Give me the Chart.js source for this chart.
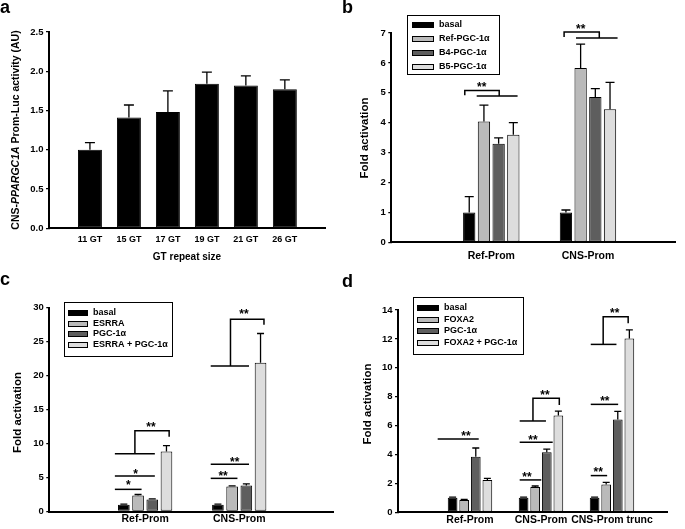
<!DOCTYPE html>
<html>
<head>
<meta charset="utf-8">
<script src="https://cdn.jsdelivr.net/npm/chart.js@4.4.0/dist/chart.umd.min.js"></script>
<style>
  body { margin: 0; background: #fff; width: 685px; height: 529px; position: relative; overflow: hidden; }
  canvas { position: absolute; }
</style>
</head>
<body>
<canvas id="chartA" width="342" height="265" style="left:0;top:0"></canvas>
<canvas id="chartB" width="343" height="265" style="left:342px;top:0"></canvas>
<canvas id="chartC" width="342" height="264" style="left:0;top:265px"></canvas>
<canvas id="chartD" width="343" height="264" style="left:342px;top:265px"></canvas>
<script>
var FONT = "'Liberation Sans', Arial, sans-serif";

// panel a - GT repeat sizes
var gtLabels = ['11 GT', '15 GT', '17 GT', '19 GT', '21 GT', '26 GT'];
var gtMeans = [1.00, 1.41, 1.48, 1.84, 1.82, 1.77];
var gtErrs = [0.09, 0.16, 0.27, 0.15, 0.12, 0.12];

// panel b
var bGroups = ['Ref-Prom', 'CNS-Prom'];
var bNames = ['basal', 'Ref-PGC-1α', 'B4-PGC-1α', 'B5-PGC-1α'];
var bBasal = [1.00, 1.00];
var bRefPgc = [4.04, 5.83];
var bB4Pgc = [3.30, 4.86];
var bB5Pgc = [3.60, 4.45];
var bBasalErr = [0.53, 0.08];
var bRefPgcErr = [0.55, 0.80];
var bB4PgcErr = [0.19, 0.28];
var bB5PgcErr = [0.40, 0.90];
// significance marks: [group, x1, x2, y] / [group, xa, ya, yTop, xb, yb] / [group, x, y, text]
var bLines = [[1, -0.151, 0.272, 4.89], [2, -0.124, 0.306, 6.83]];
var bPaths = [[1, -0.274, 4.92, 5.08, 0.082, 4.89], [2, -0.247, 6.87, 7.03, 0.117, 6.83]];
var bStars = [[1, -0.099, 5.28, '**'], [2, -0.075, 7.24, '**']];

// panel c
var cGroups = ['Ref-Prom', 'CNS-Prom'];
var cNames = ['basal', 'ESRRA', 'PGC-1α', 'ESRRA + PGC-1α'];
var cBasal = [1.00, 1.00];
var cEsrra = [2.35, 3.68];
var cPgc = [1.76, 3.82];
var cCombo = [8.85, 21.9];
var cBasalErr = [0.08, 0.08];
var cEsrraErr = [0.15, 0.09];
var cPgcErr = [0.10, 0.25];
var cComboErr = [0.85, 4.3];
var cLines = [[1, -0.322, -0.038, 3.26], [1, -0.322, 0.103, 5.22], [1, -0.322, 0.103, 8.5],
              [2, -0.303, -0.019, 4.88], [2, -0.303, 0.104, 6.94], [2, -0.303, 0.104, 21.43]];
var cPaths = [[1, -0.109, 8.5, 11.88, 0.255, 11.0], [2, -0.093, 21.43, 28.3, 0.263, 27.5]];
var cStars = [[1, -0.180, 4.3, '*'], [1, -0.102, 6.0, '*'], [1, 0.061, 12.87, '**'],
              [2, -0.172, 5.7, '**'], [2, -0.048, 7.72, '**'], [2, 0.051, 29.5, '**']];

// panel d
var dGroups = ['Ref-Prom', 'CNS-Prom', 'CNS-Prom trunc'];
var dNames = ['basal', 'FOXA2', 'PGC-1α', 'FOXA2 + PGC-1α'];
var dBasal = [1.00, 1.00, 1.00];
var dFoxa2 = [0.85, 1.75, 1.93];
var dPgc = [3.85, 4.15, 6.43];
var dCombo = [2.24, 6.70, 12.03];
var dBasalErr = [0.05, 0.05, 0.05];
var dFoxa2Err = [0.05, 0.07, 0.14];
var dPgcErr = [0.60, 0.22, 0.55];
var dComboErr = [0.11, 0.30, 0.60];
var dLines = [[1, -0.455, 0.123, 5.07], [2, -0.30, 0.004, 2.24], [2, -0.30, 0.165, 4.84], [2, -0.30, 0.07, 6.32],
              [3, -0.299, -0.068, 2.54], [3, -0.299, 0.087, 7.47], [3, -0.299, 0.063, 11.62]];
var dPaths = [[2, -0.113, 6.32, 7.89, 0.258, 7.43], [3, -0.124, 11.62, 13.54, 0.228, 13.08]];
var dStars = [[1, -0.056, 5.47, '**'], [2, -0.197, 2.63, '**'], [2, -0.113, 5.24, '**'], [2, 0.056, 8.3, '**'],
              [3, -0.194, 2.98, '**'], [3, -0.101, 7.89, '**'], [3, 0.039, 14.0, '**']];

var barColors = ['#000000', '#bababa', '#5e5e5e', '#dddddd'];

Chart.defaults.font.family = FONT;
Chart.defaults.font.weight = 'bold';
Chart.defaults.color = '#000';

var overlay = {
  id: 'overlay',
  afterDatasetsDraw: function (chart, args, o) {
    var ctx = chart.ctx, xs = chart.scales.x, ys = chart.scales.y;
    ctx.save();
    ctx.strokeStyle = '#000';
    ctx.lineWidth = 1.3;
    // error bars (upper only)
    chart.data.datasets.forEach(function (ds, di) {
      chart.getDatasetMeta(di).data.forEach(function (bar, i) {
        var top = ys.getPixelForValue(ds.data[i].y + ds.errors[i]);
        ctx.beginPath();
        ctx.moveTo(bar.x, bar.y);
        ctx.lineTo(bar.x, top);
        ctx.moveTo(bar.x - o.cap, top);
        ctx.lineTo(bar.x + o.cap, top);
        ctx.stroke();
      });
    });
    // significance lines and brackets
    ctx.lineWidth = 1.5;
    (o.lines || []).forEach(function (l) {
      var y = ys.getPixelForValue(l[3]);
      ctx.beginPath();
      ctx.moveTo(xs.getPixelForValue(l[0] + l[1]), y);
      ctx.lineTo(xs.getPixelForValue(l[0] + l[2]), y);
      ctx.stroke();
    });
    (o.paths || []).forEach(function (p) {
      var xa = xs.getPixelForValue(p[0] + p[1]), xb = xs.getPixelForValue(p[0] + p[4]);
      var yt = ys.getPixelForValue(p[3]);
      ctx.beginPath();
      ctx.moveTo(xa, ys.getPixelForValue(p[2]));
      ctx.lineTo(xa, yt);
      ctx.lineTo(xb, yt);
      ctx.lineTo(xb, ys.getPixelForValue(p[5]));
      ctx.stroke();
    });
    ctx.fillStyle = '#000';
    ctx.font = 'bold 12px ' + FONT;
    ctx.textAlign = 'center';
    ctx.textBaseline = 'alphabetic';
    (o.stars || []).forEach(function (s) {
      ctx.fillText(s[3], xs.getPixelForValue(s[0] + s[1]), ys.getPixelForValue(s[2]) + 7);
    });
    // legend box
    var lg = o.legend;
    if (lg) {
      ctx.lineWidth = 1;
      ctx.fillStyle = '#fff';
      ctx.fillRect(lg.x, lg.y, lg.w, lg.h);
      ctx.strokeRect(lg.x + 0.5, lg.y + 0.5, lg.w, lg.h);
      ctx.font = 'bold 9px ' + FONT;
      ctx.textAlign = 'left';
      ctx.textBaseline = 'middle';
      chart.data.datasets.forEach(function (ds, i) {
        var cy = Math.round(lg.rowY + i * lg.rowGap);
        ctx.fillStyle = ds.backgroundColor;
        ctx.fillRect(lg.swX, cy - 3, lg.swW, 6);
        ctx.strokeRect(lg.swX + 0.5, cy - 2.5, lg.swW - 1, 5);
        ctx.fillStyle = '#000';
        ctx.fillText(ds.label, lg.textX, cy);
      });
    }
    // y title (mixed styles)
    var t = o.yTitle;
    ctx.save();
    ctx.translate(t.x, t.y);
    ctx.rotate(-Math.PI / 2);
    ctx.textAlign = 'left';
    ctx.textBaseline = 'middle';
    var total = 0;
    t.parts.forEach(function (p) {
      ctx.font = (p[1] ? 'italic ' : '') + 'bold ' + t.size + 'px ' + FONT;
      total += ctx.measureText(p[0]).width;
    });
    var px = -total / 2;
    t.parts.forEach(function (p) {
      ctx.font = (p[1] ? 'italic ' : '') + 'bold ' + t.size + 'px ' + FONT;
      ctx.fillText(p[0], px, 0);
      px += ctx.measureText(p[0]).width;
    });
    ctx.restore();
    // x title
    if (o.xTitle) {
      ctx.font = 'bold 10px ' + FONT;
      ctx.textAlign = 'center';
      ctx.textBaseline = 'middle';
      ctx.fillText(o.xTitle.text, (chart.chartArea.left + chart.chartArea.right) / 2, o.xTitle.y);
    }
    // panel letter
    ctx.font = 'bold 18px ' + FONT;
    ctx.textAlign = 'left';
    ctx.textBaseline = 'alphabetic';
    ctx.fillText(o.letter, 0, o.letterY);
    ctx.restore();
  }
};

function makeChart(id, groups, names, series, errors, colors, cfg) {
  var datasets = names.map(function (name, k) {
    return {
      label: name,
      data: series[k].map(function (v, i) { return { x: i + 1, y: v }; }),
      errors: errors[k],
      backgroundColor: colors[k],
      borderColor: '#000',
      borderWidth: 1,
      borderSkipped: false,
      categoryPercentage: cfg.catPct,
      barPercentage: cfg.barPct
    };
  });
  return new Chart(document.getElementById(id), {
    type: 'bar',
    data: { datasets: datasets },
    options: {
      responsive: false,
      animation: false,
      layout: { padding: { top: cfg.top, right: cfg.right, left: 0, bottom: 0 } },
      plugins: {
        legend: { display: false },
        tooltip: { enabled: false },
        overlay: cfg.overlay
      },
      scales: {
        x: {
          type: 'linear',
          min: cfg.xMin,
          max: cfg.xMax,
          offset: false,
          grid: { display: false, drawTicks: false, offset: false },
          border: { display: true, color: '#000', width: 2 },
          ticks: {
            stepSize: 1,
            includeBounds: false,
            autoSkip: false,
            maxRotation: 0,
            minRotation: 0,
            padding: cfg.xPad,
            font: { size: cfg.xFont, weight: 'bold' },
            callback: function (v) { return (v === Math.round(v) && groups[v - 1]) ? groups[v - 1] : ''; }
          },
          afterFit: function (s) { s.height = cfg.xHeight; }
        },
        y: {
          min: 0,
          max: cfg.yMax,
          grid: { drawOnChartArea: false, drawTicks: true, tickLength: 3, color: '#000', lineWidth: 1.3 },
          border: { display: true, color: '#000', width: 2 },
          ticks: {
            stepSize: cfg.yStep,
            padding: 2.5,
            font: { size: cfg.yFont, weight: 'bold' },
            callback: function (v) { return v.toFixed(cfg.dec); }
          },
          afterFit: function (s) { s.width = cfg.yWidth; }
        }
      }
    },
    plugins: [overlay]
  });
}

makeChart('chartA', gtLabels, ['CNS-PPARGC1A'], [gtMeans], [gtErrs], ['#000000'], {
  xMin: -0.05, xMax: 7.03, yMax: 2.5, yStep: 0.5, dec: 1,
  top: 32, right: 17, yWidth: 49, xHeight: 36.7,
  catPct: 1, barPct: 0.615, xFont: 9, xPad: 6.2, yFont: 9.5,
  overlay: {
    cap: 5,
    yTitle: { x: 16, y: 130, size: 10.5, parts: [['CNS-', false], ['PPARGC1A', true], [' Prom-Luc activity (AU)', false]] },
    xTitle: { text: 'GT repeat size', y: 257 },
    letter: 'a', letterY: 13
  }
});

makeChart('chartB', bGroups, bNames, [bBasal, bRefPgc, bB4Pgc, bB5Pgc],
  [bBasalErr, bRefPgcErr, bB4PgcErr, bB5PgcErr], barColors, {
  xMin: -0.034, xMax: 2.9, yMax: 7, yStep: 1, dec: 0,
  top: 33, right: 10, yWidth: 49.3, xHeight: 22.7,
  catPct: 0.608, barPct: 0.837, xFont: 10.5, xPad: 7.4, yFont: 9.5,
  overlay: {
    cap: 4.5, lines: bLines, paths: bPaths, stars: bStars,
    legend: { x: 65, y: 15, w: 92, h: 59, rowY: 25, rowGap: 14, swX: 70, swW: 22, textX: 97 },
    yTitle: { x: 23, y: 138, size: 11.5, parts: [['Fold activation', false]] },
    letter: 'b', letterY: 13
  }
});

makeChart('chartC', cGroups, cNames, [cBasal, cEsrra, cPgc, cCombo],
  [cBasalErr, cEsrraErr, cPgcErr, cComboErr], barColors, {
  xMin: -0.019, xMax: 3.0, yMax: 30, yStep: 5, dec: 0,
  top: 42.7, right: 8.7, yWidth: 49.3, xHeight: 17.5,
  catPct: 0.604, barPct: 0.82, xFont: 10.5, xPad: 1.7, yFont: 9.5,
  overlay: {
    cap: 3.5, lines: cLines, paths: cPaths, stars: cStars,
    legend: { x: 64, y: 37, w: 108, h: 54, rowY: 48, rowGap: 10.7, swX: 68, swW: 20, textX: 93 },
    yTitle: { x: 18.3, y: 147.5, size: 11.5, parts: [['Fold activation', false]] },
    letter: 'c', letterY: 20
  }
});

makeChart('chartD', dGroups, dNames, [dBasal, dFoxa2, dPgc, dCombo],
  [dBasalErr, dFoxa2Err, dPgcErr, dComboErr], barColors, {
  xMin: -0.014, xMax: 3.775, yMax: 14, yStep: 2, dec: 0,
  top: 45, right: 18, yWidth: 56, xHeight: 16.7,
  catPct: 0.653, barPct: 0.836, xFont: 10.5, xPad: 1.7, yFont: 9.5,
  overlay: {
    cap: 3.5, lines: dLines, paths: dPaths, stars: dStars,
    legend: { x: 71, y: 32, w: 110, h: 57, rowY: 43, rowGap: 11.7, swX: 75, swW: 22, textX: 102 },
    yTitle: { x: 26, y: 139, size: 11.5, parts: [['Fold activation', false]] },
    letter: 'd', letterY: 22
  }
});
</script>
</body>
</html>
